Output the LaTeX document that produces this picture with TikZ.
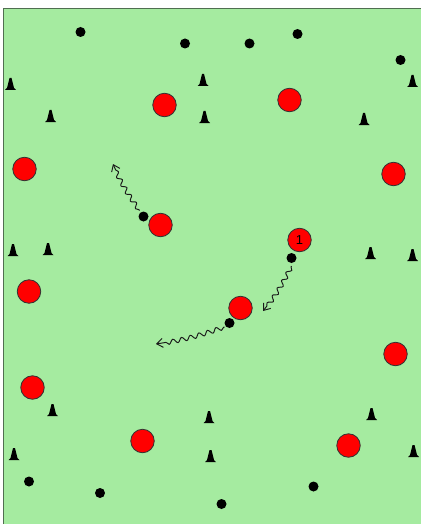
\documentclass[tikz,border=0pt]{standalone}
\usepackage{fontspec}
\setmainfont{Liberation Sans}
\usepackage{tikz}
\usetikzlibrary{arrows.meta, decorations.pathmorphing}
\definecolor{pitchgreen}{RGB}{165, 235, 160}
\definecolor{pitchedge}{RGB}{80, 110, 80}
\definecolor{playerred}{RGB}{255, 0, 0}
\tikzset{
  playernode/.style={circle, draw=black!80, fill=playerred, line width=0.8pt, minimum size=23.5pt, inner sep=0pt, font=\fontsize{13}{13}\selectfont},
  ballnode/.style={circle, fill=black, minimum size=10pt, inner sep=0pt},
  conenode/.style={fill=black},
  runarrow/.style={-{Straight Barb[length=6pt,width=9pt]}, line width=0.95pt, black!90,
    decorate, decoration={snake, amplitude=2.2pt, segment length=9pt, post length=6pt, pre length=1pt}},
}

\begin{document}
\begin{tikzpicture}[x=1pt, y=-1pt]
  \useasboundingbox (0,0) rectangle (421,524);
  \fill[white] (0,0) rectangle (421,524);
  \fill[pitchgreen] (3,8) rectangle (421,524);
  \draw[pitchedge, line width=0.8pt] (3,524)--(3,8)--(421,8);
  % players
  \foreach \n/\x/\y in {a/164.5/105,b/289.5/100,c/24.5/169,d/393.5/174,e/160.5/225,g/240.5/308,h/29/291.5,i/395.5/354,j/32.5/387.5,k/142.5/441,l/348.5/445.5}
    \node[playernode] (p\n) at (\x,\y) {};
  \node[playernode] (pf) at (299.5,240) {1};
  % balls
  \foreach \n/\x/\y in {a/80.5/32,b/185/43.5,c/249.5/43.5,d/297.5/34,e/400.5/60,f/143.5/216.5,g/291.5/258,h/229.5/323,i/29/481.5,j/100/493,k/221.5/504,l/313.5/486.5}
    \node[ballnode] (b\n) at (\x,\y) {};
  % cones
  \foreach \x/\y in {10.5/90,50.5/122,203/86,412.5/87,204.5/123,364/125,13/256,48/255,370.5/259,412.5/261,52.5/416,209/423,371.5/420,14/460,210.5/462,413.5/457}
    \fill[conenode] (\x-5.5,\y) -- (\x-3.5,\y-2) -- (\x-1,\y-12) -- (\x+1,\y-12) -- (\x+3.5,\y-2) -- (\x+5.5,\y) -- cycle;
  % runs
  \coordinate (ea) at (113,164);
  \coordinate (eb) at (263,311);
  \coordinate (ec) at (156,344);
  \draw[runarrow] (bf) ++(-4,-6) to[bend left=6] (ea);
  \draw[runarrow] (bg) ++(0,8) to[bend left=6] (eb);
  \draw[runarrow] (bh) ++(-5,4) to[bend left=5] (ec);
\end{tikzpicture}
\end{document}
